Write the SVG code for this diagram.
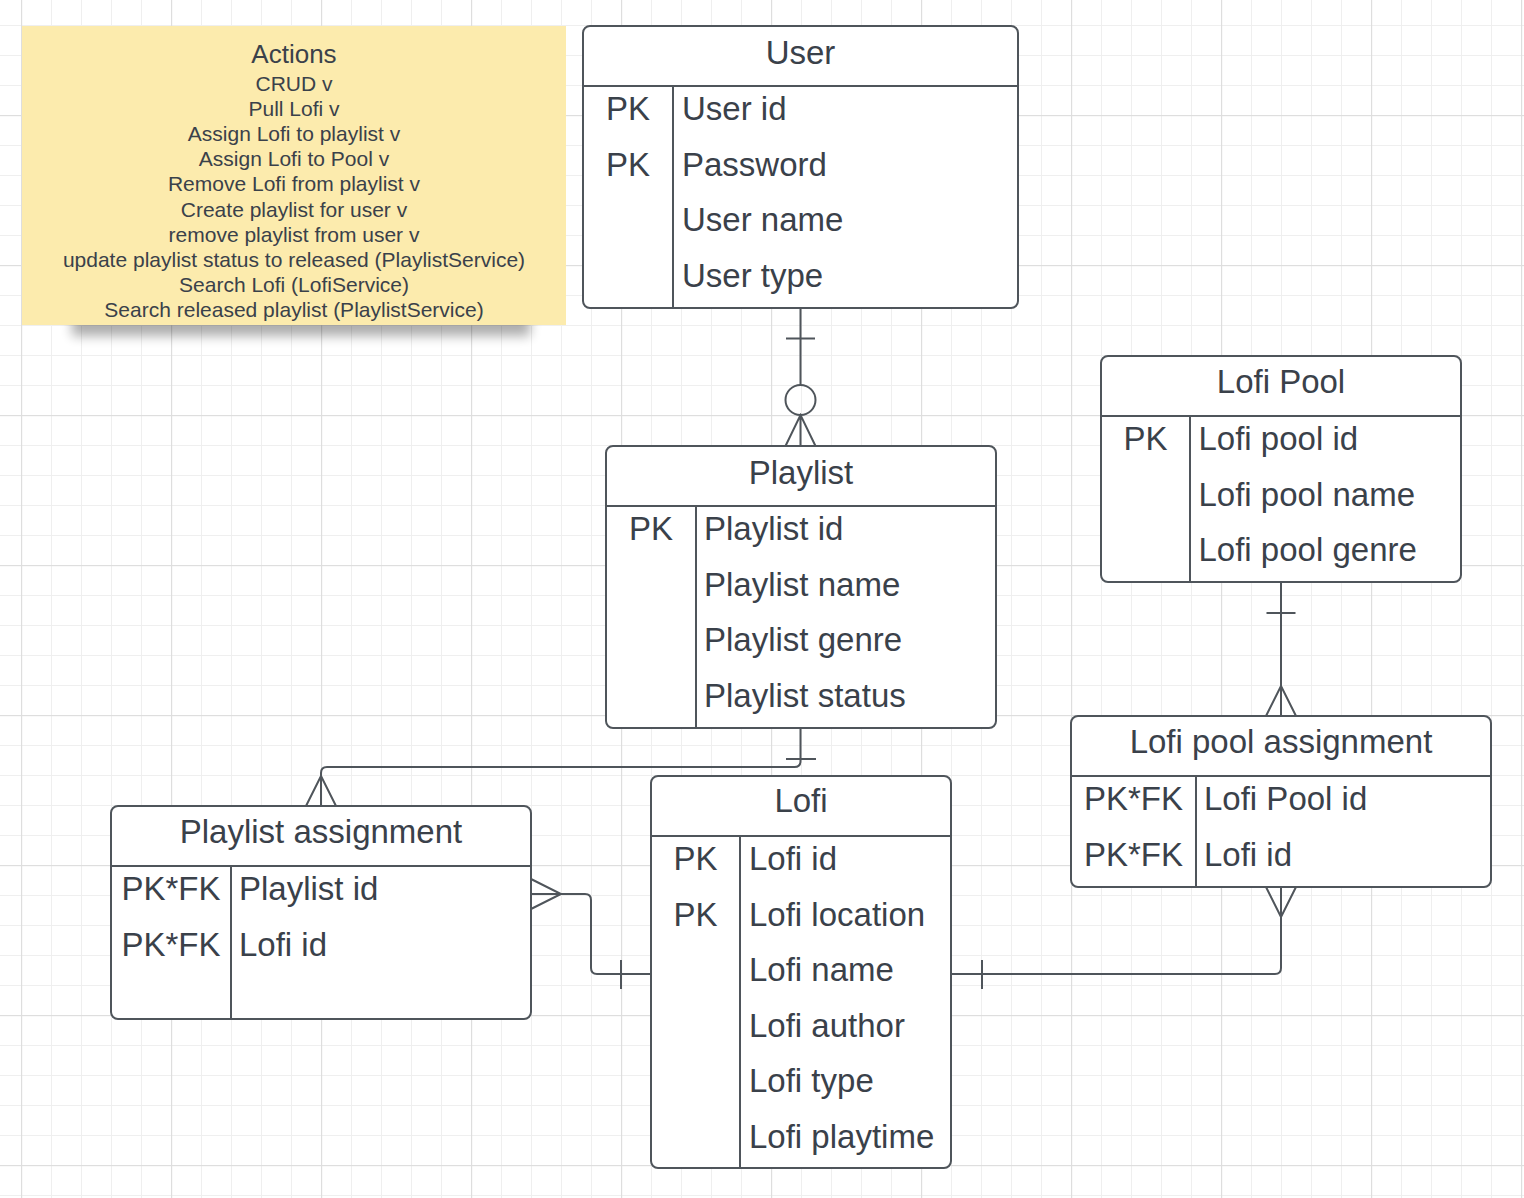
<svg xmlns="http://www.w3.org/2000/svg" width="1524" height="1198" viewBox="0 0 1524 1198">
<defs>
<pattern id="gMinor" x="21" y="25" width="30" height="30" patternUnits="userSpaceOnUse">
<rect x="0" y="0" width="30" height="1" fill="#efefef"/>
<rect x="0" y="0" width="1" height="30" fill="#efefef"/>
</pattern>
<pattern id="gMajor" x="21" y="115" width="150" height="150" patternUnits="userSpaceOnUse">
<rect x="0" y="0" width="150" height="1.2" fill="#dedede"/>
<rect x="0" y="0" width="1.2" height="150" fill="#dedede"/>
</pattern>
<filter id="blur" x="-20%" y="-100%" width="140%" height="300%">
<feGaussianBlur stdDeviation="6"/>
</filter>
</defs>
<style>
.box{fill:#ffffff;stroke:#4f555b;stroke-width:2}
.ln{fill:none;stroke:#4f555b;stroke-width:2}
.t{font-family:"Liberation Sans",Arial,sans-serif;fill:#3a414a}
.title{font-size:33px;text-anchor:middle}
.key{font-size:33px;text-anchor:middle}
.fld{font-size:33px}
.note{font-size:21px;text-anchor:middle}
</style>
<rect width="1524" height="1198" fill="#ffffff"/>
<rect width="1524" height="1198" fill="url(#gMinor)"/>
<rect width="1524" height="1198" fill="url(#gMajor)"/>

<g id="actions-note">
<rect x="72" y="314" width="458" height="22" fill="#000" opacity="0.32" filter="url(#blur)"/>
<rect x="22" y="26" width="544" height="299" fill="#fcebad"/>
<text class="t" x="294" y="62.5" font-size="26" text-anchor="middle">Actions</text>
<text class="t note" x="294" y="90.5">CRUD v</text>
<text class="t note" x="294" y="115.7">Pull Lofi v</text>
<text class="t note" x="294" y="140.9">Assign Lofi to playlist v</text>
<text class="t note" x="294" y="166.1">Assign Lofi to Pool v</text>
<text class="t note" x="294" y="191.3">Remove Lofi from playlist v</text>
<text class="t note" x="294" y="216.5">Create playlist for user v</text>
<text class="t note" x="294" y="241.7">remove playlist from user v</text>
<text class="t note" x="294" y="266.9">update playlist status to released (PlaylistService)</text>
<text class="t note" x="294" y="292.1">Search Lofi (LofiService)</text>
<text class="t note" x="294" y="317.3">Search released playlist (PlaylistService)</text>
</g>

<g id="connectors">
<!-- User - Playlist -->
<path class="ln" d="M800.5 308 V384.5 M786 338.5 H815"/>
<circle class="ln" cx="800.5" cy="400" r="15"/>
<path class="ln" d="M800.5 415 V446 M785.5 446 L800.5 415 L815.5 446"/>
<!-- Lofi Pool - Lofi pool assignment -->
<path class="ln" d="M1281 582 V716 M1266.5 613 H1295.5 M1266 716 L1281 686 L1296 716"/>
<!-- Lofi - Lofi pool assignment -->
<path class="ln" d="M951 974 H1275 Q1281 974 1281 968 V887 M982 960 V989 M1266 887 L1281 917 L1296 887"/>
<!-- Playlist - Playlist assignment -->
<path class="ln" d="M800.5 728 V761 Q800.5 767 794.5 767 H327 Q321 767 321 773 V806 M786 759 H816 M306 806 L321 776 L336 806"/>
<!-- Lofi - Playlist assignment -->
<path class="ln" d="M651 974 H597 Q591 974 591 968 V900 Q591 894 585 894 H531 M621 960 V989 M531 879 L561 894 L531 909"/>
</g>

<g id="user">
<rect class="box" x="583" y="26" width="435" height="282" rx="7"/>
<path class="ln" d="M583 86 H1018 M673 86 V308"/>
<text class="t title" x="800.5" y="63.5">User</text>
<text class="t key" x="628" y="119.5">PK</text>
<text class="t key" x="628" y="175.5">PK</text>
<text class="t fld" x="682" y="119.5">User id</text>
<text class="t fld" x="682" y="175.5">Password</text>
<text class="t fld" x="682" y="231">User name</text>
<text class="t fld" x="682" y="287">User type</text>
</g>

<g id="playlist">
<rect class="box" x="606" y="446" width="390" height="282" rx="7"/>
<path class="ln" d="M606 506 H996 M696 506 V728"/>
<text class="t title" x="801" y="483.5">Playlist</text>
<text class="t key" x="651" y="540">PK</text>
<text class="t fld" x="704" y="540">Playlist id</text>
<text class="t fld" x="704" y="596">Playlist name</text>
<text class="t fld" x="704" y="651">Playlist genre</text>
<text class="t fld" x="704" y="707">Playlist status</text>
</g>

<g id="lofi-pool">
<rect class="box" x="1101" y="356" width="360" height="226" rx="7"/>
<path class="ln" d="M1101 416 H1461 M1190 416 V582"/>
<text class="t title" x="1281" y="393">Lofi Pool</text>
<text class="t key" x="1145.5" y="450">PK</text>
<text class="t fld" x="1198.5" y="450">Lofi pool id</text>
<text class="t fld" x="1198.5" y="506">Lofi pool name</text>
<text class="t fld" x="1198.5" y="561">Lofi pool genre</text>
</g>

<g id="lofi-pool-assignment">
<rect class="box" x="1071" y="716" width="420" height="171" rx="7"/>
<path class="ln" d="M1071 776 H1491 M1196 776 V887"/>
<text class="t title" x="1281" y="753">Lofi pool assignment</text>
<text class="t key" x="1133.5" y="810">PK*FK</text>
<text class="t key" x="1133.5" y="866">PK*FK</text>
<text class="t fld" x="1204" y="810">Lofi Pool id</text>
<text class="t fld" x="1204" y="866">Lofi id</text>
</g>

<g id="lofi">
<rect class="box" x="651" y="776" width="300" height="392" rx="7"/>
<path class="ln" d="M651 836 H951 M740 836 V1168"/>
<text class="t title" x="801" y="812">Lofi</text>
<text class="t key" x="695.5" y="870">PK</text>
<text class="t key" x="695.5" y="926">PK</text>
<text class="t fld" x="749" y="870">Lofi id</text>
<text class="t fld" x="749" y="926">Lofi location</text>
<text class="t fld" x="749" y="981">Lofi name</text>
<text class="t fld" x="749" y="1037">Lofi author</text>
<text class="t fld" x="749" y="1092">Lofi type</text>
<text class="t fld" x="749" y="1148">Lofi playtime</text>
</g>

<g id="playlist-assignment">
<rect class="box" x="111" y="806" width="420" height="213" rx="7"/>
<path class="ln" d="M111 866 H531 M231 866 V1019"/>
<text class="t title" x="321" y="843">Playlist assignment</text>
<text class="t key" x="171" y="900">PK*FK</text>
<text class="t key" x="171" y="956">PK*FK</text>
<text class="t fld" x="239" y="900">Playlist id</text>
<text class="t fld" x="239" y="956">Lofi id</text>
</g>
</svg>
